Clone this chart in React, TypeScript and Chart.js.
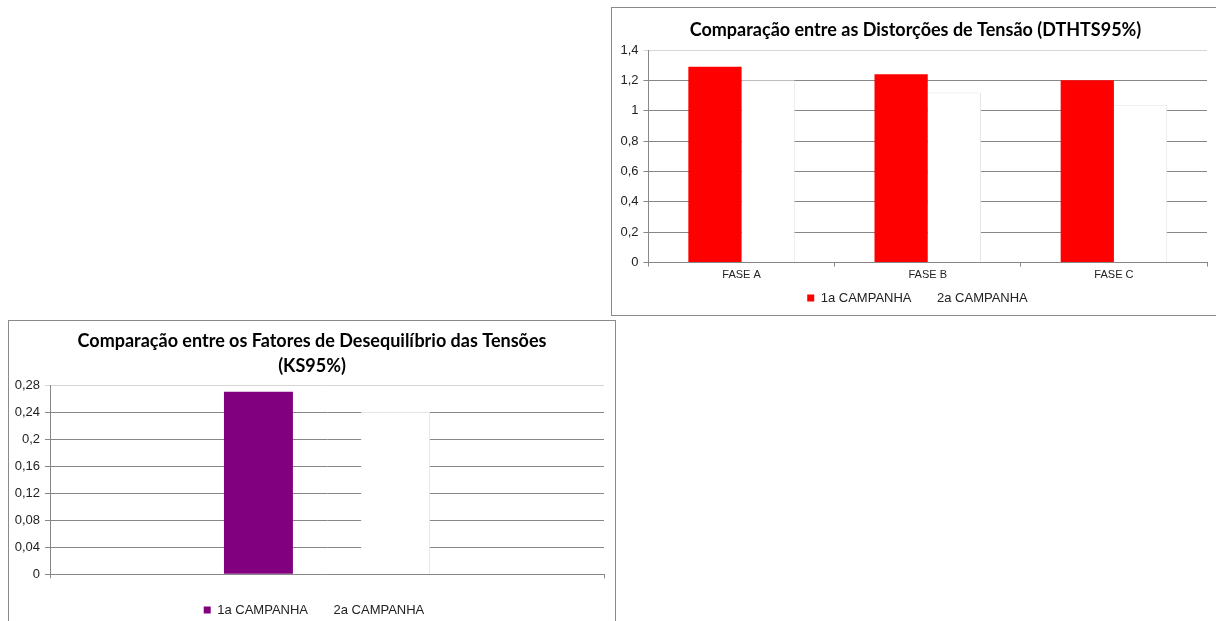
import React, { useEffect, useRef } from "react";
import { Chart, registerables } from "chart.js";

Chart.register(...registerables);

// ---- Data ----
const seriesNames = ["1a CAMPANHA", "2a CAMPANHA"];

const dtTitle = "Comparação entre as Distorções de Tensão (DTHTS95%)";
const phaseLabels = ["FASE A", "FASE B", "FASE C"];
const dtCampaign1 = [1.29, 1.24, 1.2];
const dtCampaign2 = [1.2, 1.12, 1.04];
const dtAxis = { min: 0, max: 1.4, step: 0.2 };

const ksTitle = ["Comparação entre os Fatores de Desequilíbrio das Tensões", "(KS95%)"];
const ksLabels = [""];
const ksCampaign1 = [0.27];
const ksCampaign2 = [0.24];
const ksAxis = { min: 0, max: 0.28, step: 0.04 };

const GRID = "#878787";
const GRID_TOP = "#d6d6d6";
const TEXT = "#222222";

const fmt = (v: number) => String(Math.round(v * 100) / 100).replace(".", ",");

// shifts the title and legend boxes horizontally after layout
const shiftPlugin = {
  id: "shiftBoxes",
  afterLayout(chart: any, _args: any, opts: any) {
    const t = chart.titleBlock;
    if (t && opts.title) {
      t.left += opts.title;
      t.right += opts.title;
    }
    const l = chart.legend;
    if (l && opts.legend) {
      l.left += opts.legend;
      l.right += opts.legend;
    }
  },
};

function makeConfig(opts: any) {
  const {
    labels, d1, d2, color1, axis, title, titlePad, lineHeight,
    yWidth, xHeight, pad, catPct, barPct, legendPad, showX, shift,
  } = opts;
  return {
    type: "bar",
    plugins: [shiftPlugin],
    data: {
      labels,
      datasets: [
        {
          label: seriesNames[0],
          data: d1,
          backgroundColor: color1,
          borderWidth: 0,
          categoryPercentage: catPct,
          barPercentage: barPct,
        },
        {
          label: seriesNames[1],
          data: d2,
          backgroundColor: "#ffffff",
          borderColor: "#e6e6e6",
          borderWidth: { top: 1, right: 1, left: 0, bottom: 0 },
          borderSkipped: false,
          categoryPercentage: catPct,
          barPercentage: barPct,
        },
      ],
    },
    options: {
      responsive: false,
      animation: false,
      devicePixelRatio: 1,
      layout: { padding: pad },
      plugins: {
        tooltip: { enabled: false },
        shiftBoxes: shift,
        title: {
          display: true,
          text: title,
          color: "#000",
          font: { family: "Lato, 'Open Sans', sans-serif", size: 18, weight: "bold", lineHeight },
          padding: titlePad,
        },
        legend: {
          position: "bottom",
          labels: {
            color: TEXT,
            font: { family: "'Liberation Sans', Arial, sans-serif", size: 13 },
            boxWidth: 7,
            boxHeight: 7,
            padding: legendPad,
            generateLabels: (chart: any) =>
              Chart.defaults.plugins.legend.labels
                .generateLabels(chart)
                .map((l: any) => ({ ...l, lineWidth: 0, strokeStyle: "rgba(0,0,0,0)" })),
          },
        },
      },
      scales: {
        x: {
          grid: {
            display: true,
            drawOnChartArea: false,
            drawTicks: true,
            tickLength: 4,
            color: GRID,
            offset: true,
          },
          border: { display: true, color: GRID },
          ticks: {
            display: showX,
            color: TEXT,
            padding: 2,
            font: { family: "'Liberation Sans', Arial, sans-serif", size: 11 },
          },
          afterFit: (s: any) => {
            s.height = xHeight;
          },
        },
        y: {
          min: axis.min,
          max: axis.max,
          grid: {
            color: (c: any) =>
              c.tick && Math.abs(c.tick.value - axis.max) < 1e-9 ? GRID_TOP : GRID,
            tickLength: 5,
          },
          border: { display: true, color: GRID },
          ticks: {
            stepSize: axis.step,
            color: TEXT,
            padding: 5,
            font: { family: "'Liberation Sans', Arial, sans-serif", size: 13 },
            callback: (v: any) => fmt(Number(v)),
          },
          afterFit: (s: any) => {
            s.width = yWidth;
          },
        },
      },
    },
  };
}

function ChartBox(props: {
  left: number; top: number; boxW: number; boxH: number; W: number; H: number; config: any;
}) {
  const ref = useRef<HTMLCanvasElement | null>(null);
  useEffect(() => {
    if (!ref.current) return;
    const chart = new Chart(ref.current, props.config);
    return () => chart.destroy();
  }, []);
  return (
    <div
      style={{
        position: "absolute",
        left: props.left,
        top: props.top,
        width: props.boxW,
        height: props.boxH,
        border: "1px solid #8a8a8a",
        background: "#fff",
        overflow: "hidden",
      }}
    >
      <canvas ref={ref} width={props.W} height={props.H} style={{ display: "block", width: props.W, height: props.H }} />
    </div>
  );
}

export default function App() {
  const topConfig = makeConfig({
    labels: phaseLabels,
    d1: dtCampaign1,
    d2: dtCampaign2,
    color1: "#ff0000",
    axis: dtAxis,
    title: dtTitle,
    titlePad: { top: 11, bottom: 9.4 },
    lineHeight: 1.2,
    yWidth: 36.5,
    xHeight: 17,
    pad: { left: 0, right: 9, top: 0, bottom: 0.5 },
    catPct: 0.572,
    barPct: 1,
    legendPad: 12,
    showX: true,
    shift: { title: 6, legend: 8 },
  });
  const botConfig = makeConfig({
    labels: ksLabels,
    d1: ksCampaign1,
    d2: ksCampaign2,
    color1: "#800080",
    axis: ksAxis,
    title: ksTitle,
    titlePad: { top: 7.5, bottom: 6.5 },
    lineHeight: 25 / 18,
    yWidth: 41,
    xHeight: 17.2,
    pad: { left: 0, right: 11, top: 0, bottom: 4.5 },
    catPct: 0.495,
    barPct: 0.503,
    legendPad: 12,
    showX: false,
    shift: { title: 5.5, legend: 7.5 },
  });
  return (
    <div style={{ position: "fixed", left: 0, top: 0, width: 1216, height: 621, overflow: "hidden", background: "#fff" }}>
      <ChartBox left={611} top={7} boxW={606} boxH={307} W={604} H={307} config={topConfig} />
      <ChartBox left={8} top={320} boxW={606} boxH={320} W={606} H={310} config={botConfig} />
    </div>
  );
}
